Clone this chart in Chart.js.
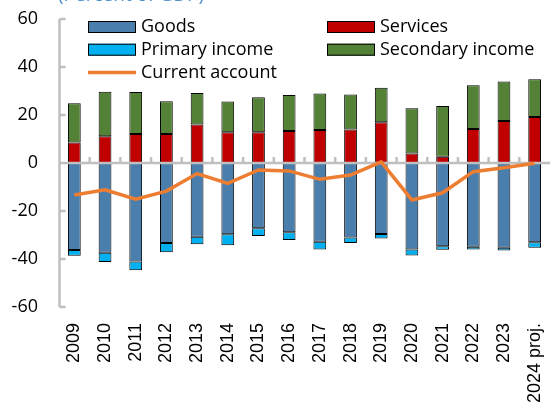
<!DOCTYPE html>
<html>
<head>
<meta charset="utf-8">
<script src="https://cdn.jsdelivr.net/npm/chart.js@4"></script>
<style>
  body { margin: 0; background: #fff; }
  #wrap { width: 550px; height: 406px; position: relative; }
</style>
</head>
<body>
<div id="wrap"><canvas id="chart"></canvas></div>
<script>
const years = ["2009", "2010", "2011", "2012", "2013", "2014", "2015", "2016",
  "2017", "2018", "2019", "2020", "2021", "2022", "2023", "2024 proj."];
const goods = [-36.2, -37.4, -41.0, -33.3, -30.7, -29.7, -27.2, -28.9,
  -32.8, -31.0, -29.6, -36.0, -34.7, -34.9, -35.3, -33.0];
const primaryIncome = [-2.4, -3.9, -3.7, -3.9, -3.2, -4.6, -3.2, -3.2,
  -3.2, -2.3, -1.9, -2.5, -1.4, -1.1, -1.2, -2.3];
const services = [8.5, 11.1, 12.1, 12.1, 16.0, 12.8, 12.8, 13.3,
  13.8, 14.0, 17.0, 4.0, 2.6, 14.2, 17.5, 19.2];
const secondaryIncome = [16.4, 18.6, 17.5, 13.6, 13.2, 12.8, 14.6, 15.0,
  15.2, 14.5, 14.4, 18.8, 21.2, 18.2, 16.5, 15.7];
const currentAccount = [-13.3, -11.2, -15.1, -11.7, -4.4, -8.5, -2.9, -3.3,
  -6.8, -5.0, 0.5, -15.4, -12.4, -3.6, -2.0, -0.1];
const yTicks = [-60, -40, -20, 0, 20, 40, 60];
const legendOrder = ["Goods", "Services", "Primary income", "Secondary income", "Current account"];
const titleText = "(Percent of GDP)";

const axisGray = "#BFBFBF";

const bar = (label, data, color) => ({
  type: "bar",
  label,
  data,
  backgroundColor: color,
  borderColor: "#000",
  borderWidth: 1,
  borderSkipped: false,
  barPercentage: 0.52,
  categoryPercentage: 0.8,
  stack: "ca",
  order: 1,
});

// axes: y line with inward ticks, zero line with upward ticks between years
const axesPlugin = {
  id: "axes",
  beforeDatasetDraw(chart, args) {
    if (args.meta.type !== "line") return;
    const { ctx, chartArea, scales } = chart;
    const x = scales.x;
    const y = scales.y;
    const left = chartArea.left + 0.5;
    ctx.save();
    ctx.strokeStyle = axisGray;
    ctx.lineWidth = 2.5;
    ctx.beginPath();
    ctx.moveTo(left, y.getPixelForValue(60));
    ctx.lineTo(left, y.getPixelForValue(-60));
    yTicks.forEach((t) => {
      const py = y.getPixelForValue(t);
      ctx.moveTo(left, py);
      ctx.lineTo(left + 6, py);
    });
    const zy = y.getPixelForValue(0);
    ctx.moveTo(left, zy);
    ctx.lineTo(chartArea.right, zy);
    for (let i = 1; i < years.length; i++) {
      const px = (x.getPixelForValue(i - 1) + x.getPixelForValue(i)) / 2;
      ctx.moveTo(px, zy);
      ctx.lineTo(px, zy - 6);
    }
    ctx.stroke();
    ctx.restore();
  },
  afterDraw(chart) {
    const ctx = chart.ctx;
    ctx.save();
    // title sits mostly above the picture
    ctx.fillStyle = "#4F8FCF";
    ctx.font = "19px 'Open Sans'";
    ctx.textBaseline = "alphabetic";
    ctx.fillText(titleText, 58, 1);

    // legend in two columns
    ctx.font = "18px 'Open Sans'";
    ctx.textBaseline = "middle";
    legendOrder.forEach((name, i) => {
      const ds = chart.data.datasets.find((d) => d.label === name);
      const bx = [88, 327][i % 2];
      const by = 27 + Math.floor(i / 2) * 22.7;
      if (ds.type === "line") {
        ctx.strokeStyle = ds.borderColor;
        ctx.lineWidth = 3.5;
        ctx.beginPath();
        ctx.moveTo(bx, by);
        ctx.lineTo(bx + 48, by);
        ctx.stroke();
      } else {
        ctx.fillStyle = ds.backgroundColor;
        ctx.fillRect(bx, by - 6, 48, 12);
        ctx.strokeStyle = "#000";
        ctx.lineWidth = 1;
        ctx.strokeRect(bx + 0.5, by - 5.5, 47, 11);
      }
      ctx.fillStyle = "#000";
      ctx.fillText(name, bx + 53, by);
    });
    ctx.restore();
  },
};

const chart = new Chart(document.getElementById("chart").getContext("2d"), {
  data: {
    labels: years,
    datasets: [
      bar("Goods", goods, "#4A7EAD"),
      bar("Primary income", primaryIncome, "#00B0F0"),
      bar("Services", services, "#C00000"),
      bar("Secondary income", secondaryIncome, "#538135"),
      {
        type: "line",
        label: "Current account",
        data: currentAccount,
        borderColor: "#ED7D31",
        borderWidth: 3.5,
        pointRadius: 0,
        tension: 0,
        order: 0,
      },
    ],
  },
  options: {
    responsive: true,
    maintainAspectRatio: false,
    animation: false,
    layout: {
      padding: { top: 19, right: 0, left: 0, bottom: 0 },
    },
    scales: {
      x: {
        stacked: true,
        grid: { display: false, drawTicks: false },
        border: { display: false },
        ticks: {
          color: "#000",
          font: { family: "'Liberation Sans', Arial", size: 18 },
          minRotation: 90,
          maxRotation: 90,
          autoSkip: false,
          padding: 16,
        },
        afterFit: (scale) => {
          scale.height = 99;
          scale.paddingLeft = 0;
          scale.paddingRight = 0;
        },
      },
      y: {
        stacked: true,
        min: -60,
        max: 60,
        grid: { display: false, drawTicks: false },
        border: { display: false },
        ticks: {
          stepSize: 20,
          color: "#000",
          font: { family: "'Open Sans'", size: 18 },
          padding: 21,
        },
        afterFit: (scale) => {
          scale.width = 59;
          scale.paddingTop = 0;
          scale.paddingBottom = 0;
        },
      },
    },
    plugins: {
      legend: { display: false },
      tooltip: { enabled: false },
    },
  },
  plugins: [axesPlugin],
});
</script>
</body>
</html>
